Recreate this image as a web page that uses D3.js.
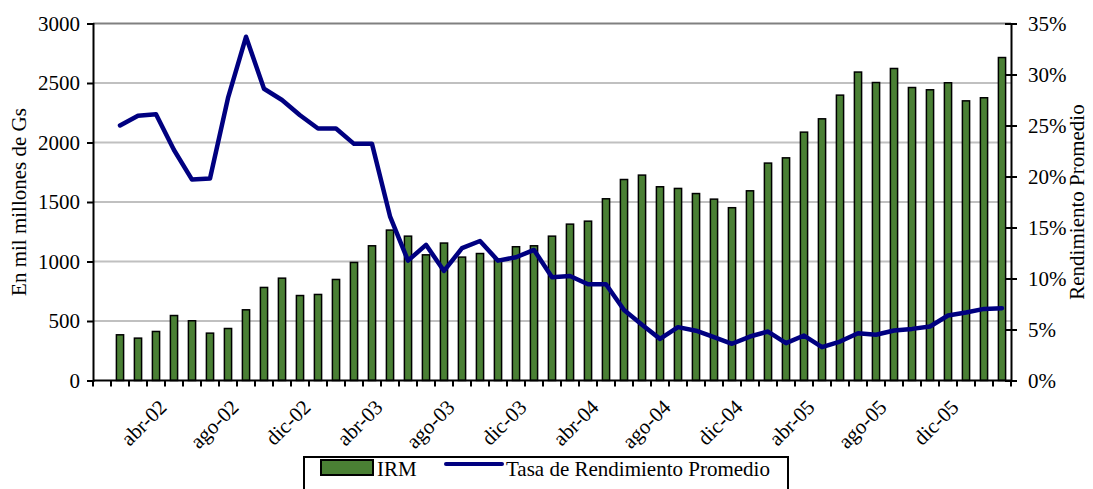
<!DOCTYPE html>
<html>
<head>
<meta charset="UTF-8">
<script src="https://cdn.jsdelivr.net/npm/d3@7"></script>
<style>
  body { margin: 0; background: #fff; }
  svg text { font-family: "Liberation Serif", "Times New Roman", serif; fill: #000; }
</style>
</head>
<body>
<svg id="chart" width="1093" height="489"></svg>
<script>
// months ene-02 .. mar-06
const months = [
  "ene-02","feb-02","mar-02","abr-02","may-02","jun-02","jul-02","ago-02","sep-02","oct-02","nov-02","dic-02",
  "ene-03","feb-03","mar-03","abr-03","may-03","jun-03","jul-03","ago-03","sep-03","oct-03","nov-03","dic-03",
  "ene-04","feb-04","mar-04","abr-04","may-04","jun-04","jul-04","ago-04","sep-04","oct-04","nov-04","dic-04",
  "ene-05","feb-05","mar-05","abr-05","may-05","jun-05","jul-05","ago-05","sep-05","oct-05","nov-05","dic-05",
  "ene-06","feb-06","mar-06"
];

// IRM, en mil millones de Gs
const irm = [
  null, 384, 356, 412, 546, 502, 398, 437, 594, 782, 860, 714,
  723, 849, 992, 1132, 1264, 1213, 1056, 1155, 1037, 1067, 1020, 1124,
  1132, 1213, 1314, 1339, 1527, 1689, 1726, 1628, 1614, 1571, 1524, 1452,
  1594, 1827, 1871, 2087, 2199, 2398, 2592, 2504, 2622, 2462, 2443, 2502,
  2350, 2376, 2714
];

// Tasa de Rendimiento Promedio (%)
const tasa = [
  null, 25.0, 25.96, 26.1, 22.6, 19.7, 19.8, 27.7, 33.7, 28.6, 27.5, 26.0,
  24.7, 24.7, 23.2, 23.2, 16.1, 11.75, 13.3, 10.74, 12.97, 13.68, 11.75, 12.08,
  12.8, 10.13, 10.25, 9.44, 9.44, 6.92, 5.46, 4.08, 5.23, 4.88, 4.25, 3.6,
  4.31, 4.8, 3.66, 4.41, 3.27, 3.82, 4.64, 4.48, 4.9, 5.06, 5.29, 6.37,
  6.66, 7.02, 7.09
];

const xLabels = ["abr-02","ago-02","dic-02","abr-03","ago-03","dic-03","abr-04","ago-04","dic-04","abr-05","ago-05","dic-05"];
const leftTicks = [0, 500, 1000, 1500, 2000, 2500, 3000];
const rightTicks = [0, 5, 10, 15, 20, 25, 30, 35];

const svg = d3.select("#chart");
const pLeft = 93, pRight = 1011, pTop = 23.5, pBottom = 380.5;
const fs = "21px";

const x = d3.scaleBand().domain(months).range([pLeft, pRight]).paddingInner(0.6).paddingOuter(0.3);
const y = d3.scaleLinear().domain([0, 3000]).range([pBottom, pTop]);
const y2 = d3.scaleLinear().domain([0, 35]).range([pBottom, pTop]);

// gridlines
svg.append("g").selectAll("line")
  .data(leftTicks.filter(d => d > 0))
  .enter().append("line")
  .attr("x1", pLeft).attr("x2", pRight)
  .attr("y1", d => y(d)).attr("y2", d => y(d))
  .attr("stroke", d => d == 3000 ? "#808080" : "#c0c0c0")
  .attr("stroke-width", 2);

// bars
const data = months.map((m, i) => ({ m: m, v: irm[i], t: tasa[i] }));
svg.append("g").selectAll("rect")
  .data(data.filter(d => d.v != null))
  .enter().append("rect")
  .attr("x", d => x(d.m))
  .attr("y", d => y(d.v))
  .attr("width", x.bandwidth())
  .attr("height", d => pBottom - y(d.v))
  .attr("fill", "#4a8034")
  .attr("stroke", "#000")
  .attr("stroke-width", 1.5);

// line
const line = d3.line()
  .defined(d => d.t != null)
  .x(d => x(d.m) + x.bandwidth() / 2)
  .y(d => y2(d.t));
svg.append("path")
  .datum(data)
  .attr("d", line)
  .attr("fill", "none")
  .attr("stroke", "#000080")
  .attr("stroke-width", 4.5)
  .attr("stroke-linejoin", "round")
  .attr("stroke-linecap", "round");

// left axis
svg.append("g")
  .attr("transform", "translate(" + pLeft + ",0)")
  .call(d3.axisLeft(y).tickValues(leftTicks).tickSize(6).tickPadding(7).tickFormat(d3.format("d")))
  .call(g => g.select(".domain").attr("stroke-width", 2))
  .call(g => g.selectAll(".tick line").attr("stroke-width", 2))
  .call(g => g.selectAll("text").style("font-size", fs).attr("fill", "#000"));

// right axis (ticks cross)
const ra = svg.append("g").attr("transform", "translate(" + pRight + ",0)");
ra.call(d3.axisRight(y2).tickValues(rightTicks).tickSize(6).tickPadding(11).tickFormat(d => d + "%"))
  .call(g => g.select(".domain").attr("stroke-width", 2))
  .call(g => g.selectAll(".tick line").attr("x1", -6).attr("stroke-width", 2))
  .call(g => g.selectAll("text").style("font-size", fs).attr("fill", "#000"));

// bottom axis with ticks between categories
const bounds = months.map(m => x(m) - x.step() * x.paddingInner() / 2).concat([pRight]);
const bx = svg.append("g");
bx.append("line").attr("x1", pLeft).attr("x2", pRight).attr("y1", pBottom).attr("y2", pBottom)
  .attr("stroke", "#000").attr("stroke-width", 2);
bx.selectAll(".tk").data(bounds).enter().append("line")
  .attr("x1", d => d).attr("x2", d => d)
  .attr("y1", pBottom).attr("y2", pBottom + 6)
  .attr("stroke", "#000").attr("stroke-width", 2);
bx.selectAll("text").data(xLabels).enter().append("text")
  .attr("transform", d => "translate(" + (x(d) + x.bandwidth() / 2 + 12) + "," + (pBottom + 28) + ") rotate(-45)")
  .attr("text-anchor", "end")
  .style("font-size", fs)
  .text(d => d);

// axis titles
svg.append("text")
  .attr("transform", "translate(26," + ((pTop + pBottom) / 2) + ") rotate(-90)")
  .attr("text-anchor", "middle")
  .style("font-size", fs)
  .text("En mil millones de Gs");
svg.append("text")
  .attr("transform", "translate(1084," + ((pTop + pBottom) / 2) + ") rotate(-90)")
  .attr("text-anchor", "middle")
  .style("font-size", fs)
  .text("Rendimiento Promedio");

// legend
const lg = svg.append("g");
lg.append("rect").attr("x", 304).attr("y", 457).attr("width", 484).attr("height", 40)
  .attr("fill", "#fff").attr("stroke", "#000").attr("stroke-width", 2);
lg.append("rect").attr("x", 321).attr("y", 460).attr("width", 52).attr("height", 15)
  .attr("fill", "#4a8034").attr("stroke", "#000").attr("stroke-width", 2);
lg.append("text").attr("x", 377).attr("y", 476).style("font-size", fs).text("IRM");
lg.append("line").attr("x1", 446).attr("x2", 502).attr("y1", 464).attr("y2", 464)
  .attr("stroke", "#000080").attr("stroke-width", 4).attr("stroke-linecap", "round");
lg.append("text").attr("x", 506).attr("y", 476).style("font-size", fs).text("Tasa de Rendimiento Promedio");
</script>
</body>
</html>
